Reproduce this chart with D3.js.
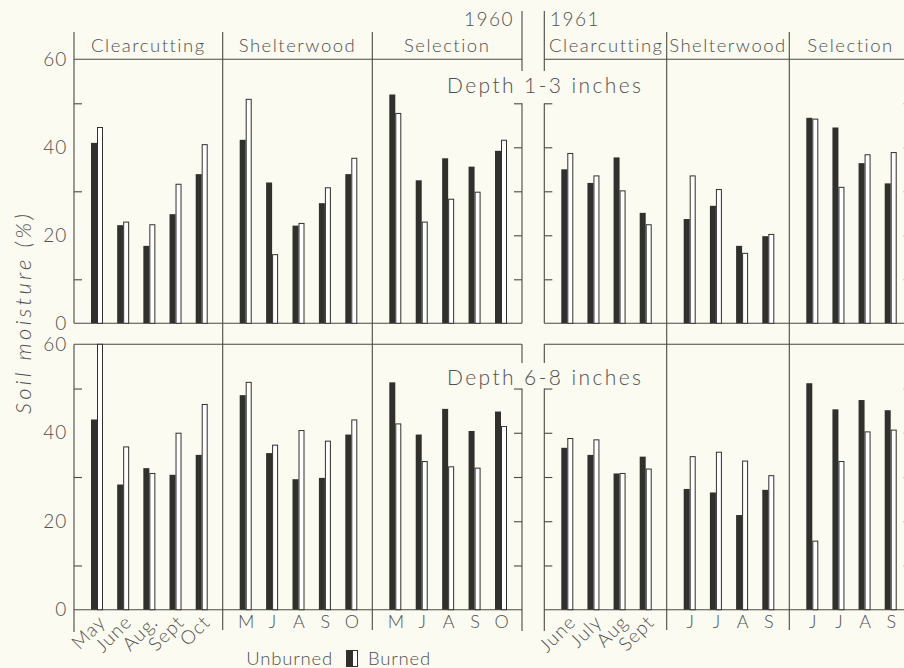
<!DOCTYPE html>
<html>
<head>
<meta charset="utf-8">
<script src="https://cdn.jsdelivr.net/npm/d3@7"></script>
<style>
  html, body { margin: 0; padding: 0; background: #fbfbf1; }
  svg { display: block; }
  text { font-family: Lato, "Open Sans", "DejaVu Sans", sans-serif; font-weight: 300; fill: #505050; }
</style>
</head>
<body>
<svg id="chart" width="904" height="668"></svg>
<script>
// ---- data -------------------------------------------------------------
const years = ["1960", "1961"];
const treatments = ["Clearcutting", "Shelterwood", "Selection"];
const depths = ["Depth 1-3 inches", "Depth 6-8 inches"];

const months1960 = ["May", "Jun", "Aug", "Sep", "Oct"];
const months1961 = ["Jun", "Jul", "Aug", "Sep"];

// tick labels under each treatment panel
const labels1960 = [
  ["May", "June", "Aug.", "Sept", "Oct"],
  ["M", "J", "A", "S", "O"],
  ["M", "J", "A", "S", "O"]
];
const labels1961 = [
  ["June", "July", "Aug", "Sept"],
  ["J", "J", "A", "S"],
  ["J", "J", "A", "S"]
];

// soil moisture (%), one row per treatment
const shallowUnburned1960 = [[41.0, 22.3, 17.6, 24.8, 33.9], [41.7, 32.0, 22.2, 27.3, 33.9], [52.0, 32.5, 37.5, 35.6, 39.2]];
const shallowBurned1960   = [[44.5, 23.0, 22.4, 31.6, 40.6], [50.9, 15.6, 22.7, 30.8, 37.5], [47.7, 23.0, 28.2, 29.8, 41.6]];
const shallowUnburned1961 = [[35.0, 31.9, 37.7, 25.1], [23.7, 26.7, 17.6, 19.8], [46.7, 44.5, 36.4, 31.8]];
const shallowBurned1961   = [[38.6, 33.5, 30.1, 22.4], [33.5, 30.4, 15.9, 20.2], [46.4, 30.9, 38.3, 38.8]];
const deepUnburned1960    = [[43.0, 28.3, 32.0, 30.5, 35.0], [48.5, 35.4, 29.5, 29.8, 39.6], [51.4, 39.6, 45.4, 40.4, 44.8]];
const deepBurned1960      = [[60.0, 36.8, 30.8, 39.9, 46.4], [51.4, 37.2, 40.5, 38.1, 42.9], [42.0, 33.5, 32.3, 32.0, 41.4]];
const deepUnburned1961    = [[36.6, 35.0, 30.8, 34.6], [27.3, 26.5, 21.4, 27.1], [51.2, 45.3, 47.4, 45.1]];
const deepBurned1961      = [[38.7, 38.4, 30.8, 31.8], [34.6, 35.6, 33.6, 30.3], [15.5, 33.5, 40.2, 40.6]];

const yLabelTicks = [0, 20, 40, 60];
const yMinorTicks = [10, 30, 50];
const yBreakTicks = [10, 20, 30, 40, 50];

// ---- layout -----------------------------------------------------------
const svg = d3.select("#chart");
const ink = "#4a4a46";
const barInk = "#30302c";

const yearEdges = {
  "1960": [74, 222.7, 372.3, 522],
  "1961": [544.3, 666.7, 789.3, 911.7]
};
const months = { "1960": months1960, "1961": months1961 };
const tickLabels = { "1960": labels1960, "1961": labels1961 };
const values = [
  { "1960": [shallowUnburned1960, shallowBurned1960], "1961": [shallowUnburned1961, shallowBurned1961] },
  { "1960": [deepUnburned1960, deepBurned1960], "1961": [deepUnburned1961, deepBurned1961] }
];

const yScales = [
  d3.scaleLinear().domain([0, 60]).range([323.3, 59.3]),
  d3.scaleLinear().domain([0, 60]).range([609.7, 344.3])
];

const barW = 6;
const line = (g, x1, y1, x2, y2) =>
  g.append("line").attr("x1", x1).attr("y1", y1).attr("x2", x2).attr("y2", y2)
   .attr("stroke", ink).attr("stroke-width", 1.1);

const frame = svg.append("g");

// panel x scales
const xScales = {};
years.forEach(yr => {
  const e = yearEdges[yr];
  xScales[yr] = treatments.map((t, i) =>
    d3.scalePoint().domain(months[yr]).range([e[i] + 23, e[i + 1] - 21]));
});

// ---- frame lines ------------------------------------------------------
yScales.forEach(y => {
  years.forEach(yr => {
    const e = yearEdges[yr];
    line(frame, e[0], y(60), e[3], y(60));
    line(frame, e[0], y(0), e[3], y(0));
  });
});

// interior treatment dividers run through both panels
years.forEach(yr => {
  const e = yearEdges[yr];
  [e[1], e[2]].forEach(x => line(frame, x, 32, x, 630));
});

// left axis line of 1960
line(frame, 74, 32, 74, yScales[0](0));
line(frame, 74, yScales[1](60), 74, 632);

// broken edges between 1960 and 1961 (and the far right edge)
[yearEdges["1960"][3], yearEdges["1961"][0], yearEdges["1961"][3]].forEach(x => {
  line(frame, x, 11, x, 71);
  line(frame, x, yScales[0](50), x, yScales[0](0));
  line(frame, x, yScales[1](60), x, 363);
  line(frame, x, yScales[1](50), x, 631);
});

// ---- y axes ------------------------------------------------------------
yScales.forEach(y => {
  // labels on the left
  const ax = svg.append("g").attr("transform", "translate(74,0)")
    .call(d3.axisLeft(y).tickValues(yLabelTicks).tickSize(0).tickPadding(7).tickFormat(d3.format("d")));
  ax.select(".domain").remove();
  ax.selectAll("text").attr("font-size", 19).attr("fill", "#555").attr("letter-spacing", 0.8)
    .style("font-family", "Lato, 'Open Sans', sans-serif");

  // minor ticks inside the left axis
  const mn = svg.append("g").attr("transform", "translate(74,0)")
    .call(d3.axisRight(y).tickValues(yMinorTicks).tickSize(8).tickFormat(""));
  mn.select(".domain").remove();
  mn.selectAll("line").attr("stroke", ink).attr("stroke-width", 1.1);

  // ticks along the broken edges
  [[yearEdges["1960"][3], "left"], [yearEdges["1961"][0], "right"], [yearEdges["1961"][3], "left"]].forEach(([x, side]) => {
    const a = (side === "left" ? d3.axisLeft(y) : d3.axisRight(y)).tickValues(yBreakTicks).tickSize(8).tickFormat("");
    const g = svg.append("g").attr("transform", `translate(${x},0)`).call(a);
    g.select(".domain").remove();
    g.selectAll("line").attr("stroke", ink).attr("stroke-width", 1.1);
  });
});

// ---- bars -------------------------------------------------------------
const bars = svg.append("g");
yScales.forEach((y, d) => {
  years.forEach(yr => {
    treatments.forEach((t, i) => {
      const x = xScales[yr][i];
      const [unb, brn] = values[d][yr];
      months[yr].forEach((m, j) => {
        const c = x(m);
        bars.append("rect")
          .attr("x", c - barW).attr("width", barW)
          .attr("y", y(unb[i][j])).attr("height", y(0) - y(unb[i][j]))
          .attr("fill", barInk);
        bars.append("rect")
          .attr("x", c + 0.5).attr("width", barW - 1)
          .attr("y", y(brn[i][j])).attr("height", y(0) - y(brn[i][j]))
          .attr("fill", "#ffffff").attr("stroke", barInk).attr("stroke-width", 1);
      });
    });
  });
});

// ---- month labels ------------------------------------------------------
const yb = yScales[1](0);
years.forEach(yr => {
  treatments.forEach((t, i) => {
    const x = xScales[yr][i];
    const labs = tickLabels[yr][i];
    if (i === 0) {
      months[yr].forEach((m, j) => {
        svg.append("text")
          .attr("transform", `translate(${x(m) + 5},${yb + 9}) rotate(-45)`)
          .attr("text-anchor", "end").attr("dy", "0.35em")
          .attr("font-size", 19).attr("letter-spacing", 1)
          .text(labs[j]);
      });
    } else {
      const ax = svg.append("g").attr("transform", `translate(0,${yb})`)
        .call(d3.axisBottom(x).tickSize(0).tickPadding(6).tickFormat((m, j) => labs[j]));
      ax.select(".domain").remove();
      ax.selectAll("text").attr("font-size", 18).attr("fill", "#505050")
        .style("font-family", "Lato, 'Open Sans', sans-serif");
    }
  });
});

// ---- headers ----------------------------------------------------------
years.forEach(yr => {
  const e = yearEdges[yr];
  treatments.forEach((t, i) => {
    const cx = yr === "1961" && i === 0 ? e[0] + 62 : (e[i] + e[i + 1]) / 2;
    svg.append("text").attr("x", cx).attr("y", 52)
      .attr("text-anchor", "middle").attr("font-size", 18.5).attr("letter-spacing", 1.5)
      .text(t);
  });
});
svg.append("text").attr("x", 514).attr("y", 26).attr("text-anchor", "end")
  .attr("font-size", 19).attr("letter-spacing", 1.5).text(years[0]);
svg.append("text").attr("x", 550).attr("y", 26).attr("text-anchor", "start")
  .attr("font-size", 19).attr("letter-spacing", 1.5).text(years[1]);

// depth captions
[[0, 93], [1, 385]].forEach(([d, yy]) => {
  svg.append("text").attr("x", 447).attr("y", yy)
    .attr("font-size", 21).attr("letter-spacing", 2.4).text(depths[d]);
});

// y title
svg.append("text")
  .attr("transform", "translate(31,314) rotate(-90)")
  .attr("text-anchor", "middle").attr("font-size", 22).attr("font-style", "italic")
  .attr("textLength", 200).attr("lengthAdjust", "spacing")
  .text("Soil moisture (%)");

// ---- legend -----------------------------------------------------------
const lg = svg.append("g");
lg.append("text").attr("x", 333).attr("y", 665).attr("text-anchor", "end")
  .attr("font-size", 18.5).attr("letter-spacing", 0.8).text("Unburned");
lg.append("rect").attr("x", 346).attr("y", 650).attr("width", 6).attr("height", 17).attr("fill", barInk);
lg.append("rect").attr("x", 352.5).attr("y", 650.5).attr("width", 5).attr("height", 16)
  .attr("fill", "#fff").attr("stroke", barInk);
lg.append("text").attr("x", 368).attr("y", 665).attr("text-anchor", "start")
  .attr("font-size", 18.5).attr("letter-spacing", 0.8).text("Burned");
</script>
</body>
</html>
